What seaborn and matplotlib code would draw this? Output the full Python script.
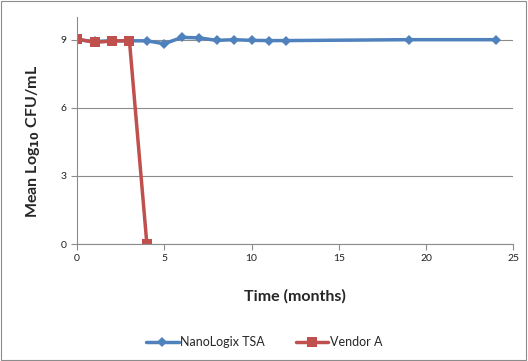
import pandas as pd
import matplotlib.pyplot as plt
import matplotlib.patches as mpatches
import seaborn as sns

# data
nano_months = [0, 1, 2, 3, 4, 5, 6, 7, 8, 9, 10, 11, 12, 19, 24]
nano_cfu = [9.0, 8.92, 8.95, 8.95, 8.95, 8.82, 9.1, 9.08, 8.97, 9.0, 8.97, 8.96, 8.96, 9.0, 9.0]
vendor_months = [0, 1, 2, 3, 4]
vendor_cfu = [9.03, 8.88, 8.94, 8.96, 0.0]
series_names = ['NanoLogix TSA', 'Vendor A']
x_ticks = [0, 5, 10, 15, 20, 25]
y_ticks = [0, 3, 6, 9]

sns.set_theme(style='white')
plt.rcParams['font.family'] = ['Lato', 'DejaVu Sans']

df = pd.concat([
    pd.DataFrame({'Time': nano_months, 'CFU': nano_cfu, 'Series': series_names[0]}),
    pd.DataFrame({'Time': vendor_months, 'CFU': vendor_cfu, 'Series': series_names[1]}),
])

fig = plt.figure(figsize=(5.28, 3.61), dpi=100)
ax = fig.add_axes([0.146, 0.324, 0.826, 0.629])

palette = {series_names[0]: '#4F81BD', series_names[1]: '#C0504D'}
sns.lineplot(data=df, x='Time', y='CFU', hue='Series', style='Series',
             palette=palette, markers={series_names[0]: 'D', series_names[1]: 's'},
             dashes=False, linewidth=2.5, ax=ax, legend=False)
# adjust marker sizes per series
for line in ax.lines:
    if line.get_marker() == 'D':
        line.set_markersize(5.5)
    elif line.get_marker() == 's':
        line.set_markersize(7.5)
    line.set_markeredgewidth(0)

ax.set_xlim(0, 25)
ax.set_ylim(0, 10)
ax.set_xticks(x_ticks)
ax.set_yticks(y_ticks)
ax.yaxis.grid(True, color='#8C8C8C', linewidth=0.8)
ax.set_axisbelow(True)
for s in ['top', 'right']:
    ax.spines[s].set_visible(False)
for s in ['left', 'bottom']:
    ax.spines[s].set_color('#8C8C8C')
    ax.spines[s].set_linewidth(0.8)
ax.tick_params(axis='both', which='major', direction='out', length=4, width=0.8,
               color='#8C8C8C', labelsize=7.5, labelcolor='#222222', bottom=True, left=True)

ax.set_xlabel('Time (months)', fontsize=11.5, fontweight='bold')
ax.xaxis.set_label_coords(0.5, -0.2)
ax.set_ylabel('Mean Log$_{\\mathbf{10}}$ CFU/mL', fontsize=11.5, fontweight='bold')
ax.yaxis.set_label_coords(-0.08, 0.45)

handles = [plt.Line2D([], [], color=palette[series_names[0]], marker='D', markersize=5.5, lw=2.5, markeredgewidth=0),
           plt.Line2D([], [], color=palette[series_names[1]], marker='s', markersize=7.5, lw=2.5, markeredgewidth=0)]
fig.legend(handles, series_names, loc='center', bbox_to_anchor=(0.5, 0.052), ncol=2,
           frameon=False, fontsize=9, handlelength=2.6, columnspacing=2.5, handletextpad=0.1)

fig.patches.append(mpatches.Rectangle((0.002, 0.003), 0.995, 0.994, transform=fig.transFigure,
                                      fill=False, edgecolor='#8C8C8C', linewidth=0.8))

plt.savefig('out.png', dpi=100)
